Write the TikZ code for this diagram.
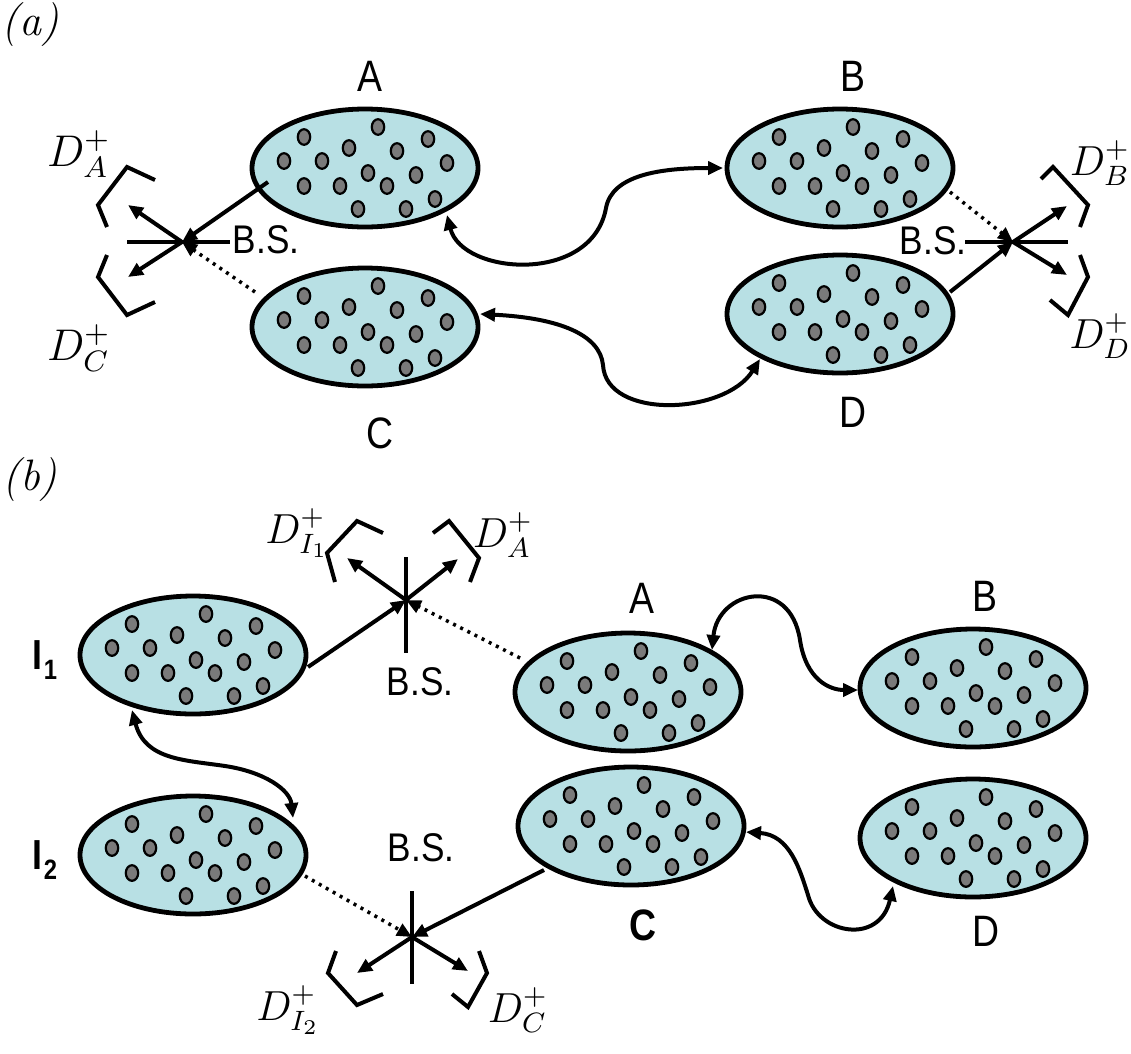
\documentclass[tikz,border=0pt]{standalone}
\usepackage{fontspec}
\setsansfont{Liberation Sans}
\usetikzlibrary{shapes.geometric,arrows.meta,calc}
\definecolor{cellfill}{RGB}{184,224,228}
\definecolor{atomgray}{RGB}{122,122,122}
\newcommand{\detlab}[2]{\scalebox{#1}{\fontsize{12}{14}\selectfont$#2$}}
\tikzset{
  ens/.style={ellipse, draw, line width=4.8pt, fill=cellfill, minimum width=226pt, minimum height=118pt, inner sep=0pt, outer sep=0pt},
  atoms/.pic={\foreach \u/\v in {-61/-31,13/-41,63/-29,-81/-7,-43/-7,-16/-20,32/-17,82/-5,3/5,51/7,-61/18,-25/18,22/18,70/31,-7/41,41/41}{\draw[line width=2.2pt, fill=atomgray] (\u,\v) ellipse [x radius=6.2pt, y radius=7.8pt];}},
  tipa/.tip={Triangle[length=15pt,width=13pt]},
  wire/.style={line width=4pt, -tipa},
  dotwire/.style={line width=3.5pt, dash pattern=on 3pt off 5pt, -tipa},
  twoway/.style={line width=4pt, tipa-tipa},
  bsbar/.style={line width=3.8pt},
  detbr/.style={line width=4pt, line join=miter},
  lbl/.style={font=\sffamily\fontsize{44}{48}\selectfont, inner sep=0pt, xscale=0.85},
  bslbl/.style={font=\sffamily\fontsize{40}{44}\selectfont, inner sep=0pt, xscale=0.88},
  dlbl/.style={inner sep=0pt},
  plbl/.style={font=\rmfamily\itshape\fontsize{44}{48}\selectfont, inner sep=0pt},
}
\begin{document}
\begin{tikzpicture}[x=1pt,y=-1pt]
\useasboundingbox[fill=white] (0,0) rectangle (1131,1053);

% ---------------- (a) ----------------
\node[plbl] (la) at (30,25) {(a)};
\node[ens] (A) at (365,168) {};
\node[ens] (B) at (840,168) {};
\node[ens] (C) at (365,327) {};
\node[ens] (D) at (840,314) {};
\foreach \n in {A,B,C,D}{\pic at (\n) {atoms};}

\node[lbl] (tA) at (370,76) {A};
\node[lbl] (tB) at (853,76) {B};
\node[lbl] (tC) at (380,433) {C};
\node[lbl] (tD) at (853,412) {D};

\coordinate (bsL) at (182,242);
\coordinate (bsR) at (1013,242);
\coordinate (aA) at ($(A)+(-97,14)$);
\coordinate (cC) at ($(C)+(-110,-35)$);
\coordinate (dD) at ($(D)+(110,-22)$);
\coordinate (bB) at ($(B)+(110,24)$);

\draw[bsbar] (127,242) -- (230,242);
\draw[bsbar] (965,242) -- (1068,242);
\node[bslbl] (bsLt) at (266,240) {B.S.};
\node[bslbl] (bsRt) at (933,241) {B.S.};

\draw[wire] (aA) -- (bsL);
\draw[dotwire] (cC) -- (bsL);
\draw[wire] (dD) -- (bsR);
\draw[dotwire] (bB) -- (bsR);

\coordinate (dAa) at (128,205);
\coordinate (dCa) at (128,277);
\coordinate (dBa) at (1067,206);
\coordinate (dDa) at (1067,275);
\draw[wire] (bsL) -- (dAa);
\draw[wire] (bsL) -- (dCa);
\draw[wire] (bsR) -- (dBa);
\draw[wire] (bsR) -- (dDa);

\draw[detbr] (155,180) -- (127,167) -- (98,205) -- (107,227);
\draw[detbr] (107,255) -- (98,277) -- (127,315) -- (155,302);
\draw[detbr] (1041,179) -- (1053,167) -- (1088,205) -- (1080,227);
\draw[detbr] (1080,255) -- (1088,277) -- (1068,315) -- (1050,300);

\node[dlbl] (DA) at (79,154) {\detlab{3.7}{D^{+}_{A}}};
\node[dlbl] (DC) at (79,348) {\detlab{3.7}{D^{+}_{C}}};
\node[dlbl] (DB) at (1100,163) {\detlab{3.5}{D^{+}_{B}}};
\node[dlbl] (DD) at (1100,336) {\detlab{3.5}{D^{+}_{D}}};

\coordinate (ab1) at (447,215);
\coordinate (ab2) at (723,168);
\draw[twoway] (ab1) .. controls (462,275) and (592,285) .. (606,208) .. controls (612,175) and (660,168) .. (ab2);
\coordinate (cd1) at (480,314);
\coordinate (cd2) at (760,359);
\draw[twoway] (cd1) .. controls (560,318) and (600,335) .. (603,365) .. controls (606,420) and (725,415) .. (cd2);

% ---------------- (b) ----------------
\node[plbl] (lb) at (30,480) {(b)};
\node[ens] (I1) at (193,655) {};
\node[ens] (I2) at (193,855) {};
\node[ens] (A2) at (628,692) {};
\node[ens] (B2) at (973,688) {};
\node[ens] (C2) at (631,826) {};
\node[ens] (D2) at (973,838) {};
\foreach \n in {I1,I2,A2,B2,C2,D2}{\pic at (\n) {atoms};}

\node[lbl, font=\sffamily\bfseries\fontsize{42}{46}\selectfont] (tI1) at (45,660) {I\kern1pt\raisebox{-10pt}{\fontsize{28}{28}\selectfont 1}};
\node[lbl, font=\sffamily\bfseries\fontsize{42}{46}\selectfont] (tI2) at (45,860) {I\kern1pt\raisebox{-10pt}{\fontsize{28}{28}\selectfont 2}};
\node[lbl] (tA2) at (642,598) {A};
\node[lbl] (tB2) at (985,596) {B};
\node[lbl, font=\sffamily\bfseries\fontsize{44}{48}\selectfont] (tC2) at (643,925) {C};
\node[lbl] (tD2) at (986,931) {D};

\coordinate (bsT) at (406,600);
\coordinate (bsB) at (412,937);
\draw[bsbar] (406,557) -- (406,653);
\draw[bsbar] (412,891) -- (412,984);
\node[bslbl] (bsTt) at (420,682) {B.S.};
\node[bslbl] (bsBt) at (421,848) {B.S.};

\coordinate (iI1) at ($(I1)+(115,12)$);
\coordinate (aA2) at ($(A2)+(-108,-34)$);
\coordinate (iI2) at ($(I2)+(112,21)$);
\coordinate (cC2) at ($(C2)+(-87,44)$);
\draw[wire] (iI1) -- (bsT);
\draw[dotwire] (aA2) -- (bsT);
\draw[wire] (cC2) -- (bsB);
\draw[dotwire] (iI2) -- (bsB);

\coordinate (dI1b) at (347,558);
\coordinate (dAb) at (458,559);
\coordinate (dI2b) at (357,973);
\coordinate (dCb) at (468,971);
\draw[wire] (bsT) -- (dI1b);
\draw[wire] (bsT) -- (dAb);
\draw[wire] (bsB) -- (dI2b);
\draw[wire] (bsB) -- (dCb);

\draw[detbr] (383,533) -- (357,521) -- (327,553) -- (335,582);
\draw[detbr] (433,533) -- (449,521) -- (479,558) -- (470,582);
\draw[detbr] (336,951) -- (328,973) -- (357,1005) -- (383,994);
\draw[detbr] (452,994) -- (468,1007) -- (487,973) -- (479,951);

\node[dlbl] (DI1) at (297,533) {\detlab{3.5}{D^{+}_{I_1}}};
\node[dlbl] (DA2) at (503,535) {\detlab{3.5}{D^{+}_{A}}};
\node[dlbl] (DI2) at (288,1010) {\detlab{3.5}{D^{+}_{I_2}}};
\node[dlbl] (DC2) at (518,1010) {\detlab{3.5}{D^{+}_{C}}};

\coordinate (ii1) at (132,710);
\coordinate (ii2) at (293,818);
\draw[twoway] (ii1) .. controls (145,760) and (185,760) .. (225,766) .. controls (265,772) and (290,790) .. (ii2);
\coordinate (ab3) at (712,650);
\coordinate (ab4) at (858,690);
\draw[twoway] (ab3) .. controls (718,590) and (790,575) .. (800,640) .. controls (806,680) and (830,690) .. (ab4);
\coordinate (cd3) at (746,832);
\coordinate (cd4) at (893,886);
\draw[twoway] (cd3) .. controls (790,835) and (800,870) .. (808,895) .. controls (818,935) and (880,945) .. (cd4);
\end{tikzpicture}
\end{document}
